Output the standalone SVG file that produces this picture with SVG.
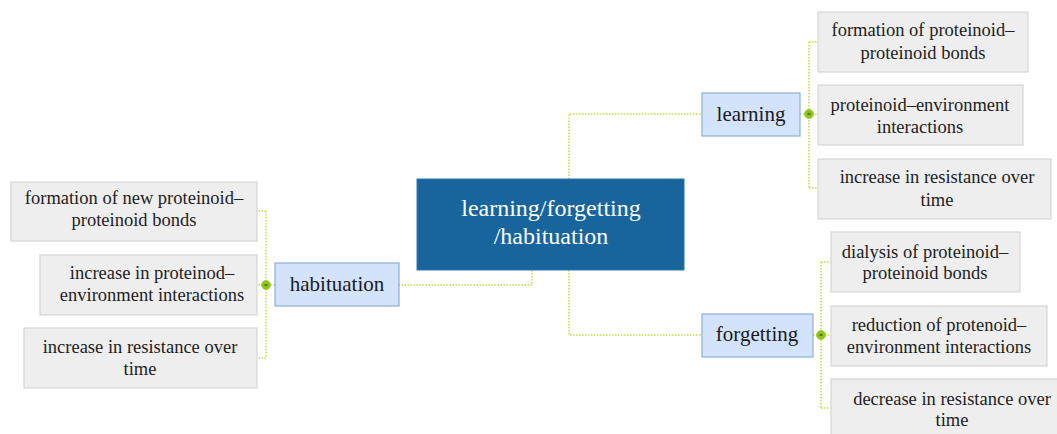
<svg xmlns="http://www.w3.org/2000/svg" width="1057" height="434" viewBox="0 0 1057 434">
<style>
.conn{fill:none;stroke:#c9e04f;stroke-width:1.6;stroke-dasharray:1.6 1.4}
.leaf{fill:#eeeeee;stroke:#d6d6d6;stroke-width:1.2}
.sub{fill:#d3e3fb;stroke:#8daed6;stroke-width:1.2}
.main{fill:#17659c;stroke:#2a78b0;stroke-width:1}
.t{font-family:"Liberation Serif","Times New Roman",serif;font-size:18.5px;fill:#222;text-anchor:middle}
.ts{font-family:"Liberation Serif","Times New Roman",serif;font-size:21px;fill:#1a1a1a;text-anchor:middle}
.tm{font-family:"Liberation Serif","Times New Roman",serif;font-size:24px;fill:#ffffff;text-anchor:middle}
.dot{fill:#8fc21e;stroke:#a6d32e;stroke-width:1}
.dash{stroke:#3a4a10;stroke-width:1.2}
</style>
<g id="connectors">
<path class="conn" d="M569,179 V114 H702"/>
<path class="conn" d="M569,270 V335 H702"/>
<path class="conn" d="M532,270 V285 H399"/>
<path class="conn" d="M800,114 H818 M809,42 V188 M809,42 H818 M809,188 H818"/>
<path class="conn" d="M813,335 H831 M821,262 V408 M821,262 H831 M821,408 H831"/>
<path class="conn" d="M275,285 H257 M266,211 V358 M266,211 H257 M266,358 H257"/>
</g>
<g id="center">
<rect class="main" x="417" y="179" width="267" height="91"/>
<text class="tm" x="551" y="216">learning/forgetting</text>
<text class="tm" x="551" y="244">/habituation</text>
</g>
<g id="learning">
<rect class="sub" x="702" y="93" width="98" height="43"/>
<text class="ts" x="751" y="121">learning</text>
<circle class="dot" cx="809" cy="114" r="4.5"/><path class="dash" d="M807.5,114 H810.5"/>
</g>
<g id="forgetting">
<rect class="sub" x="702" y="314" width="111" height="43"/>
<text class="ts" x="757" y="341">forgetting</text>
<circle class="dot" cx="821" cy="335" r="4.5"/><path class="dash" d="M819.5,335 H822.5"/>
</g>
<g id="habituation">
<rect class="sub" x="275" y="263" width="124" height="43"/>
<text class="ts" x="337" y="291">habituation</text>
<circle class="dot" cx="266" cy="285" r="4.5"/><path class="dash" d="M264.5,285 H267.5"/>
</g>
<g id="l1">
<rect class="leaf" x="818" y="12" width="210" height="60"/>
<text class="t" x="923" y="36">formation of proteinoid–</text>
<text class="t" x="923" y="59">proteinoid bonds</text>
</g>
<g id="l2">
<rect class="leaf" x="818" y="85" width="205" height="60"/>
<text class="t" x="920" y="111">proteinoid–environment</text>
<text class="t" x="920" y="133">interactions</text>
</g>
<g id="l3">
<rect class="leaf" x="818" y="159" width="233" height="60"/>
<text class="t" x="937" y="183">increase in resistance over</text>
<text class="t" x="937" y="206">time</text>
</g>
<g id="f1">
<rect class="leaf" x="831" y="232" width="189" height="60"/>
<text class="t" x="925" y="258">dialysis of proteinoid–</text>
<text class="t" x="925" y="279">proteinoid bonds</text>
</g>
<g id="f2">
<rect class="leaf" x="831" y="306" width="216" height="60"/>
<text class="t" x="939" y="331">reduction of protenoid–</text>
<text class="t" x="939" y="353">environment interactions</text>
</g>
<g id="f3">
<rect class="leaf" x="831" y="379" width="232" height="60"/>
<text class="t" x="952" y="405">decrease in resistance over</text>
<text class="t" x="952" y="426">time</text>
</g>
<g id="h1">
<rect class="leaf" x="11" y="182" width="246" height="59"/>
<text class="t" x="134" y="204">formation of new proteinoid–</text>
<text class="t" x="134" y="226">proteinoid bonds</text>
</g>
<g id="h2">
<rect class="leaf" x="40" y="255" width="217" height="60"/>
<text class="t" x="152" y="279">increase in proteinod–</text>
<text class="t" x="152" y="301">environment interactions</text>
</g>
<g id="h3">
<rect class="leaf" x="24" y="328" width="233" height="60"/>
<text class="t" x="140" y="353">increase in resistance over</text>
<text class="t" x="140" y="375">time</text>
</g>
</svg>
